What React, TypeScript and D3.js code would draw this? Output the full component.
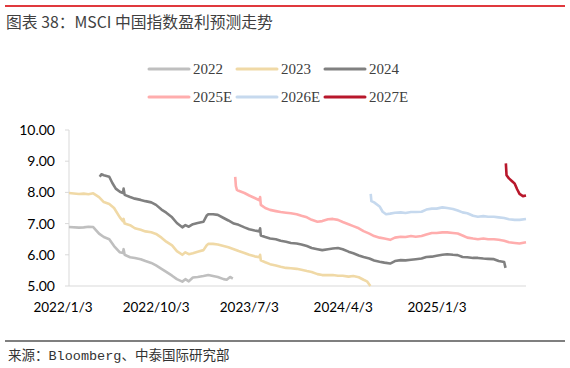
import * as d3 from 'd3';

type Pt = [string, number];

// 各年度盈利预测（日期, EPS）
const s2022: Pt[] = [
  ['2022-01-03', 6.89], ['2022-02-01', 6.87], ['2022-02-15', 6.88], ['2022-03-01', 6.9], ['2022-03-15', 6.89],
  ['2022-04-01', 6.68], ['2022-04-15', 6.57], ['2022-05-01', 6.5], ['2022-05-15', 6.28], ['2022-06-01', 6.08],
  ['2022-06-10', 6.06], ['2022-06-12', 6.18], ['2022-06-15', 6.0], ['2022-07-01', 5.92], ['2022-07-15', 5.9],
  ['2022-08-01', 5.86], ['2022-08-15', 5.8], ['2022-09-01', 5.74], ['2022-09-15', 5.66], ['2022-10-01', 5.55],
  ['2022-10-15', 5.45], ['2022-11-01', 5.33], ['2022-11-15', 5.22], ['2022-12-01', 5.14], ['2022-12-10', 5.22],
  ['2022-12-20', 5.15], ['2023-01-01', 5.27], ['2023-01-15', 5.29], ['2023-02-01', 5.32], ['2023-02-15', 5.35],
  ['2023-03-01', 5.32], ['2023-03-15', 5.29], ['2023-04-01', 5.22], ['2023-04-10', 5.2], ['2023-04-20', 5.29],
  ['2023-04-28', 5.24],
];

const s2023: Pt[] = [
  ['2022-01-03', 7.98], ['2022-02-01', 7.95], ['2022-02-15', 7.96], ['2022-03-01', 7.94], ['2022-03-15', 7.97],
  ['2022-04-01', 7.85], ['2022-04-15', 7.69], ['2022-05-01', 7.63], ['2022-05-15', 7.5], ['2022-06-01', 7.2],
  ['2022-06-10', 7.08], ['2022-06-12', 7.15], ['2022-06-15', 7.0], ['2022-07-01', 6.95], ['2022-07-15', 6.85],
  ['2022-08-01', 6.8], ['2022-08-15', 6.75], ['2022-09-01', 6.72], ['2022-09-15', 6.67], ['2022-10-01', 6.55],
  ['2022-10-15', 6.42], ['2022-11-01', 6.3], ['2022-11-15', 6.12], ['2022-12-01', 6.0], ['2022-12-10', 6.08],
  ['2022-12-20', 6.02], ['2023-01-01', 6.05], ['2023-01-15', 6.1], ['2023-02-01', 6.15], ['2023-02-10', 6.3],
  ['2023-02-15', 6.35], ['2023-03-01', 6.35], ['2023-03-15', 6.33], ['2023-04-01', 6.28], ['2023-04-15', 6.24],
  ['2023-05-01', 6.18], ['2023-05-15', 6.12], ['2023-06-01', 6.06], ['2023-06-15', 6.0], ['2023-07-01', 5.95],
  ['2023-07-15', 5.92], ['2023-07-17', 6.0], ['2023-07-19', 5.82], ['2023-08-01', 5.76], ['2023-08-15', 5.7],
  ['2023-09-01', 5.66], ['2023-09-15', 5.62], ['2023-10-01', 5.58], ['2023-10-15', 5.57], ['2023-11-01', 5.55],
  ['2023-11-15', 5.52], ['2023-12-01', 5.48], ['2023-12-15', 5.45], ['2024-01-01', 5.38], ['2024-01-15', 5.35],
  ['2024-02-01', 5.35], ['2024-02-15', 5.35], ['2024-03-01', 5.33], ['2024-03-15', 5.33], ['2024-04-01', 5.3],
  ['2024-04-15', 5.32], ['2024-05-01', 5.28], ['2024-05-15', 5.2], ['2024-05-25', 5.15], ['2024-06-04', 5.0],
];

const s2024: Pt[] = [
  ['2022-04-03', 8.5], ['2022-04-08', 8.58], ['2022-04-15', 8.55], ['2022-05-01', 8.5], ['2022-05-10', 8.3],
  ['2022-05-20', 8.12], ['2022-06-01', 8.02], ['2022-06-10', 7.98], ['2022-06-12', 8.12], ['2022-06-15', 7.92],
  ['2022-07-01', 7.85], ['2022-07-15', 7.8], ['2022-08-01', 7.76], ['2022-08-15', 7.72], ['2022-09-01', 7.68],
  ['2022-09-15', 7.6], ['2022-10-01', 7.45], ['2022-10-15', 7.35], ['2022-11-01', 7.2], ['2022-11-15', 7.02],
  ['2022-12-01', 6.88], ['2022-12-10', 6.95], ['2022-12-20', 6.9], ['2023-01-01', 6.98], ['2023-01-15', 7.02],
  ['2023-02-01', 7.06], ['2023-02-10', 7.25], ['2023-02-15', 7.3], ['2023-03-01', 7.3], ['2023-03-15', 7.28],
  ['2023-04-01', 7.18], ['2023-04-15', 7.1], ['2023-05-01', 7.0], ['2023-05-15', 6.96], ['2023-06-01', 6.88],
  ['2023-06-15', 6.82], ['2023-07-01', 6.78], ['2023-07-15', 6.75], ['2023-07-17', 6.85], ['2023-07-19', 6.62],
  ['2023-08-01', 6.57], ['2023-08-15', 6.52], ['2023-09-01', 6.5], ['2023-09-15', 6.45], ['2023-10-01', 6.42],
  ['2023-10-15', 6.38], ['2023-11-01', 6.36], ['2023-11-15', 6.33], ['2023-12-01', 6.28], ['2023-12-15', 6.22],
  ['2024-01-01', 6.18], ['2024-01-15', 6.15], ['2024-02-01', 6.18], ['2024-02-15', 6.2], ['2024-03-01', 6.22],
  ['2024-03-15', 6.18], ['2024-04-01', 6.1], ['2024-04-15', 6.05], ['2024-05-01', 5.98], ['2024-05-15', 5.93],
  ['2024-06-01', 5.88], ['2024-06-15', 5.82], ['2024-07-01', 5.78], ['2024-07-15', 5.75], ['2024-08-01', 5.72],
  ['2024-08-15', 5.8], ['2024-09-01', 5.83], ['2024-09-15', 5.82], ['2024-10-01', 5.84], ['2024-10-15', 5.86],
  ['2024-11-01', 5.88], ['2024-11-15', 5.93], ['2024-12-01', 5.94], ['2024-12-15', 5.97], ['2025-01-01', 6.0],
  ['2025-01-15', 6.02], ['2025-02-01', 6.0], ['2025-02-15', 5.99], ['2025-03-01', 5.93], ['2025-03-15', 5.92],
  ['2025-04-01', 5.9], ['2025-04-15', 5.9], ['2025-05-01', 5.88], ['2025-05-15', 5.87], ['2025-06-01', 5.86],
  ['2025-06-15', 5.8], ['2025-07-01', 5.77], ['2025-07-05', 5.58],
];

const s2025E: Pt[] = [
  ['2023-05-05', 8.5], ['2023-05-07', 8.2], ['2023-05-10', 8.08], ['2023-05-15', 8.05], ['2023-06-01', 7.98],
  ['2023-06-15', 7.9], ['2023-07-01', 7.82], ['2023-07-15', 7.75], ['2023-07-17', 7.85], ['2023-07-19', 7.6],
  ['2023-08-01', 7.5], ['2023-08-15', 7.44], ['2023-09-01', 7.4], ['2023-09-15', 7.37], ['2023-10-01', 7.35],
  ['2023-10-15', 7.33], ['2023-11-01', 7.3], ['2023-11-15', 7.25], ['2023-12-01', 7.2], ['2023-12-15', 7.12],
  ['2024-01-01', 7.06], ['2024-01-15', 7.08], ['2024-02-01', 7.14], ['2024-02-15', 7.15], ['2024-03-01', 7.12],
  ['2024-03-15', 7.05], ['2024-04-01', 6.98], ['2024-04-15', 6.92], ['2024-05-01', 6.85], ['2024-05-15', 6.76],
  ['2024-06-01', 6.68], ['2024-06-15', 6.6], ['2024-07-01', 6.55], ['2024-07-15', 6.52], ['2024-08-01', 6.48],
  ['2024-08-15', 6.55], ['2024-09-01', 6.58], ['2024-09-15', 6.57], ['2024-10-01', 6.6], ['2024-10-15', 6.58],
  ['2024-11-01', 6.6], ['2024-11-15', 6.65], ['2024-12-01', 6.7], ['2024-12-15', 6.7], ['2025-01-01', 6.72],
  ['2025-01-15', 6.72], ['2025-02-01', 6.7], ['2025-02-15', 6.68], ['2025-03-01', 6.62], ['2025-03-15', 6.55],
  ['2025-04-01', 6.52], ['2025-04-15', 6.5], ['2025-05-01', 6.52], ['2025-05-15', 6.5], ['2025-06-01', 6.5],
  ['2025-06-15', 6.48], ['2025-07-01', 6.45], ['2025-07-15', 6.4], ['2025-08-01', 6.38], ['2025-08-15', 6.36],
  ['2025-09-03', 6.4],
];

const s2026E: Pt[] = [
  ['2024-06-05', 7.95], ['2024-06-07', 7.72], ['2024-06-15', 7.68], ['2024-07-01', 7.55], ['2024-07-10', 7.38],
  ['2024-07-20', 7.3], ['2024-08-01', 7.32], ['2024-08-15', 7.35], ['2024-09-01', 7.36], ['2024-09-15', 7.34],
  ['2024-10-01', 7.37], ['2024-10-15', 7.37], ['2024-11-01', 7.38], ['2024-11-15', 7.45], ['2024-12-01', 7.48],
  ['2024-12-15', 7.48], ['2025-01-01', 7.52], ['2025-01-15', 7.5], ['2025-02-01', 7.47], ['2025-02-15', 7.42],
  ['2025-03-01', 7.36], ['2025-03-15', 7.33], ['2025-04-01', 7.25], ['2025-04-15', 7.22], ['2025-05-01', 7.24],
  ['2025-05-15', 7.22], ['2025-06-01', 7.22], ['2025-06-15', 7.2], ['2025-07-01', 7.18], ['2025-07-15', 7.14],
  ['2025-08-01', 7.12], ['2025-08-15', 7.12], ['2025-09-03', 7.15],
];

const s2027E: Pt[] = [
  ['2025-07-06', 8.93], ['2025-07-08', 8.55], ['2025-07-15', 8.45], ['2025-07-25', 8.35], ['2025-08-01', 8.28],
  ['2025-08-08', 8.1], ['2025-08-15', 7.95], ['2025-08-25', 7.88], ['2025-09-03', 7.9],
];

const seriesNames = ['2022', '2023', '2024', '2025E', '2026E', '2027E'];
const seriesData = [s2022, s2023, s2024, s2025E, s2026E, s2027E];
const seriesColors = ['#bfbfbf', '#f0d9a6', '#808080', '#ffadad', '#c6d9ee', '#b8172b'];

const yTicks = [5, 6, 7, 8, 9, 10];
const xTickLabels = ['2022/1/3', '2022/10/3', '2023/7/3', '2024/4/3', '2025/1/3'];
const xDomain = ['2022-01-03', '2025-09-03'];

const parse = d3.timeParse('%Y-%m-%d');
const parseLabel = d3.timeParse('%Y/%m/%d');

export default function App() {
  const width = 570;
  const height = 368;
  const plot = { left: 69, right: 526, top: 130, bottom: 286 };

  const x = d3.scaleTime()
    .domain(xDomain.map((d) => parse(d)!))
    .range([plot.left, plot.right]);
  const y = d3.scaleLinear().domain([5, 10]).range([plot.bottom, plot.top]);

  const line = d3.line<Pt>()
    .x((d) => x(parse(d[0])!))
    .y((d) => y(d[1]));

  const axisFont = 'Lato, "Open Sans", sans-serif';
  const serifFont = '"Liberation Serif", "Noto Sans CJK SC", serif';
  const footFont = '"Liberation Mono", "Noto Sans CJK SC", monospace';

  return (
    <svg width={width} height={height} style={{ position: 'absolute', left: 0, top: 0, background: '#fff' }}>
      <line x1={5} x2={565} y1={6} y2={6} stroke="#e0393e" strokeWidth={2} />
      <text x={6} y={28} fontFamily='"Noto Sans CJK SC", sans-serif' fontSize={15.8} fill="#404040">
        图表 38：MSCI 中国指数盈利预测走势
      </text>

      {/* legend */}
      {seriesNames.map((name, i) => {
        const lx = 149 + (i % 3) * 88;
        const ly = i < 3 ? 69 : 97;
        return (
          <g key={name}>
            <line x1={lx} x2={lx + 40} y1={ly} y2={ly} stroke={seriesColors[i]} strokeWidth={3} strokeLinecap="round" />
            <text x={lx + 44} y={ly + 5} fontFamily={serifFont} fontSize={15} fill="#404040">{name}</text>
          </g>
        );
      })}

      {/* axes */}
      <line x1={plot.left} x2={plot.left} y1={plot.top} y2={plot.bottom} stroke="#d9d9d9" />
      <line x1={plot.left} x2={plot.right} y1={plot.bottom} y2={plot.bottom} stroke="#d9d9d9" />
      {yTicks.map((t) => (
        <g key={t}>
          <line x1={plot.left - 4} x2={plot.left} y1={y(t)} y2={y(t)} stroke="#d9d9d9" />
          <text x={55} y={y(t)} dy="0.35em" textAnchor="end" fontFamily={axisFont} fontSize={14} fill="#000">
            {d3.format('.2f')(t)}
          </text>
        </g>
      ))}
      {xTickLabels.map((t) => (
        <text key={t} x={x(parseLabel(t)!) - 6} y={312} textAnchor="middle" fontFamily={axisFont} fontSize={13.5} fill="#000">
          {t}
        </text>
      ))}

      {/* series */}
      {seriesData.map((s, i) => (
        <path key={seriesNames[i]} d={line(s) ?? ''} fill="none" stroke={seriesColors[i]} strokeWidth={2.6} strokeLinejoin="round" />
      ))}

      <line x1={5} x2={565} y1={341} y2={341} stroke="#000" strokeWidth={1.2} />
      <text x={8} y={360} fontFamily={footFont} fontSize={13.5} fill="#333">来源：Bloomberg、中泰国际研究部</text>
    </svg>
  );
}
